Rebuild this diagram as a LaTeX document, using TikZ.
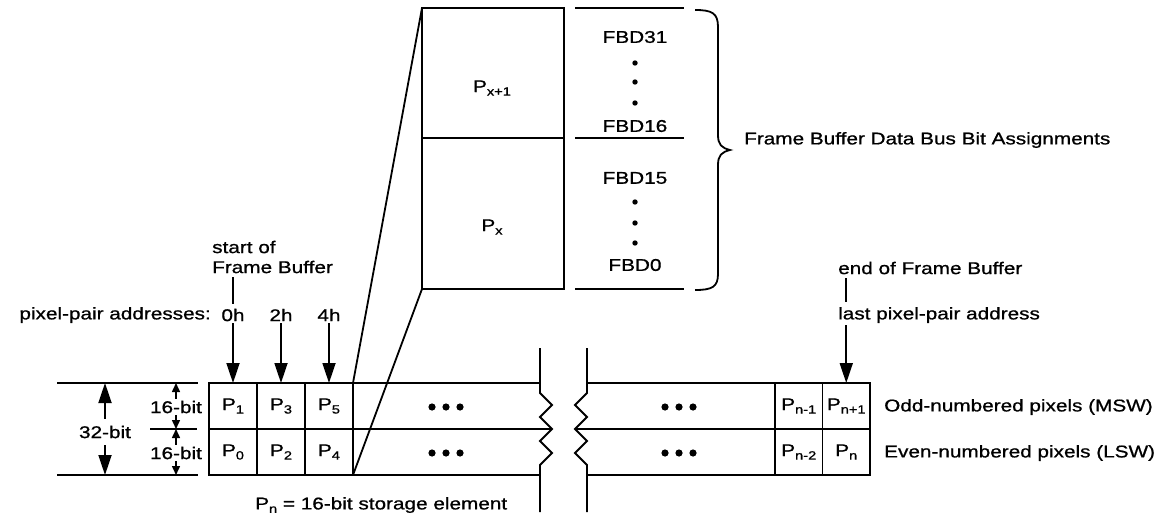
\documentclass[tikz,border=0pt]{standalone}
\usepackage{fontspec}
\setmainfont{Liberation Sans}[FakeStretch=1.22,FakeBold=0.9]
\usetikzlibrary{arrows.meta}
\newcommand\lsub[1]{\raisebox{-3.5pt}{\fontsize{12}{12}\selectfont #1}}
\begin{document}
\begin{tikzpicture}[x=1pt,y=-1pt,
 every node/.style={font=\fontsize{17}{20}\selectfont, inner sep=2pt},
 ln/.style={line width=1.8pt},
 cell/.style={draw, line width=1.8pt, minimum width=48pt, minimum height=46pt, inner sep=0pt, outer sep=0pt},
 bigbox/.style={draw, line width=1.8pt, minimum width=142pt, inner sep=0pt, outer sep=0pt},
 bigarr/.style={line width=1.8pt, -{Triangle[length=20pt,width=13pt]}},
 smarr/.style={line width=1.5pt, -{Triangle[length=9pt,width=8pt]}},
]
\useasboundingbox[fill=white] (0,0) rectangle (1172,521);

% left cells
\node[cell] (p1) at (233,406) {P\lsub{1}};
\node[cell] (p3) at (281,406) {P\lsub{3}};
\node[cell] (p5) at (329,406) {P\lsub{5}};
\node[cell] (p0) at (233,452) {P\lsub{0}};
\node[cell] (p2) at (281,452) {P\lsub{2}};
\node[cell] (p4) at (329,452) {P\lsub{4}};
% right cells
\node[cell, minimum width=47.5pt] (pnm1) at (798.75,406) {P\lsub{n-1}};
\node[cell, minimum width=47.5pt] (pnp1) at (846.25,406) {P\lsub{n+1}};
\node[cell, minimum width=47.5pt] (pnm2) at (798.75,452) {P\lsub{n-2}};
\node[cell, minimum width=47.5pt] (pn) at (846.25,452) {P\lsub{n}};

% strips
\draw[ln] (p5.north east) -- (540,383);
\draw[ln] (p4.south east) -- (540,475);
\draw[ln] (p5.south east) -- (552,429);
\draw[ln] (587,383) -- (pnm1.north west);
\draw[ln] (587,475) -- (pnm2.south west);
\draw[ln] (575,429) -- (pnm1.south west);
% break lines
\draw[ln, line join=miter] (540,348) -- (540,393) -- (552,405) -- (540,417) -- (552,429) -- (540,441) -- (552,453) -- (540,465) -- (540,512);
\draw[ln, line join=miter] (587,348) -- (587,393) -- (575,405) -- (587,417) -- (575,429) -- (587,441) -- (575,453) -- (587,465) -- (587,512);
% ellipses
\foreach \x in {432,446,460,665,679,693} {
  \fill (\x,407) circle (3.6pt);
  \fill (\x,453) circle (3.6pt);
}

% big box
\node[bigbox, minimum height=130pt] (bx1) at (493,73) {};
\node[bigbox, minimum height=151pt] (bx0) at (493,213.5) {};
\node (lx1) at (492,88) {P\lsub{x+1}};
\node (lx0) at (492,227) {P\lsub{x}};
\draw[ln] (p5.north east) -- (bx1.north west);
\draw[ln] (p4.south east) -- (bx0.south west);

% FBD column
\draw[ln] (575,8) -- (684,8);
\draw[ln] (575,138) -- (684,138);
\draw[ln] (575,289) -- (684,289);
\node (f31) at (635,37) {FBD31};
\node (f16) at (635,126) {FBD16};
\node (f15) at (635,178) {FBD15};
\node (f0) at (635,265) {FBD0};
\foreach \y in {63,82,103,202,223,243} { \fill (635,\y) circle (2.7pt); }

% brace
\draw[ln] (695,10) .. controls (712,10) and (718,13) .. (718,27) -- (718,135)
  .. controls (718,145) and (722,148) .. (730,150)
  .. controls (722,152) and (718,155) .. (718,165) -- (718,274)
  .. controls (718,287) and (712,290) .. (695,290);
\node[anchor=west] (fbd) at (742,140) {Frame Buffer Data Bus Bit Assignments};

% addresses
\node[anchor=east] (ppa) at (213,315) {pixel-pair addresses:};
\node (a0) at (233,315) {0h};
\node (a2) at (281,315) {2h};
\node (a4) at (329,315) {4h};
\node[anchor=west, align=left] (sof) at (210,257) {start of\\Frame Buffer};
\draw[ln, shorten <=2pt, shorten >=3pt] (sof.south -| a0) -- (a0);
\draw[bigarr] (a0) -- (p1);
\draw[bigarr] (a2) -- (p3);
\draw[bigarr] (a4) -- (p5);

\node[anchor=west] (eof) at (836,268) {end of Frame Buffer};
\node[anchor=west] (lpa) at (836,315) {last pixel-pair address};
\draw[ln, shorten <=2pt, shorten >=3pt] (eof.south -| pnp1) -- (lpa.north -| pnp1);
\draw[bigarr] (lpa.south -| pnp1) -- (pnp1);

% right labels
\node[anchor=west] (odd) at (882,407) {Odd-numbered pixels (MSW)};
\node[anchor=west] (even) at (882,453) {Even-numbered pixels (LSW)};

% left dimensions
\coordinate (dtl) at (57,383); \coordinate (dtr) at (198,383);
\coordinate (dbl) at (57,475); \coordinate (dbr) at (198,475);
\coordinate (dml) at (150,429); \coordinate (dmr) at (197,429);
\draw[ln] (dtl) -- (dtr);
\draw[ln] (dbl) -- (dbr);
\draw[ln] (dml) -- (dmr);
\node[inner ysep=7pt] (b32) at (105,432) {32-bit};
\draw[bigarr] (b32.north) -- (b32.north |- dtl);
\draw[bigarr] (b32.south) -- (b32.south |- dbl);
\node (b16a) at (176,407) {16-bit};
\node (b16b) at (176,453) {16-bit};
\draw[smarr] (b16a.north) -- (b16a.north |- dtl);
\draw[smarr] (b16a.south) -- (b16a.south |- dml);
\draw[smarr] (b16b.north) -- (b16b.north |- dml);
\draw[smarr] (b16b.south) -- (b16b.south |- dbl);

% footnote
\node[anchor=west] (note) at (253,505) {P\lsub{n} = 16-bit storage element};
\end{tikzpicture}
\end{document}
